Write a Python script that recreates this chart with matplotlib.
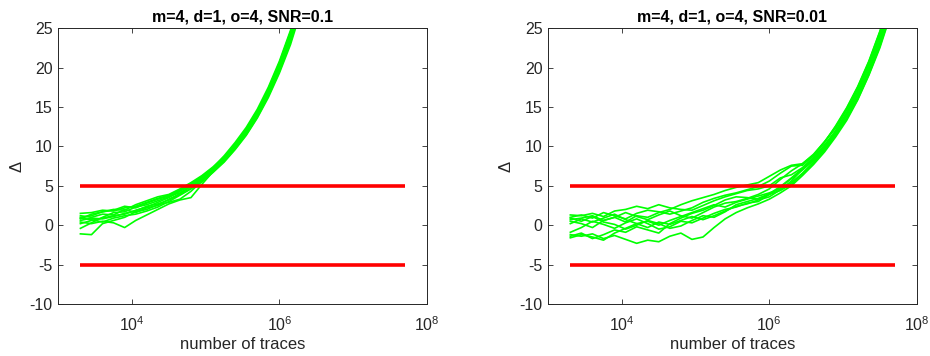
import matplotlib
matplotlib.use("Agg")
import matplotlib.pyplot as plt

plt.rcParams['font.family'] = ['Liberation Sans', 'DejaVu Sans']
plt.rcParams['mathtext.fontset'] = 'custom'
plt.rcParams['mathtext.rm'] = 'Liberation Sans'
plt.rcParams['mathtext.it'] = 'Liberation Sans'

# number of traces (x grid shared by all green curves)
traces = [1995, 2818, 3981, 5623, 7943, 11220, 15849, 22387, 31623, 44668,
          63096, 89125, 125893, 177828, 251189, 354813, 501187, 707946, 1.0e6, 1.413e6,
          1.995e6, 2.818e6, 3.981e6, 5.623e6, 7.943e6, 1.122e7, 1.585e7, 2.239e7, 3.162e7, 4.467e7]

# threshold lines
thr_x = [2000, 5.0e7]
thr_hi = [5, 5]
thr_lo = [-5, -5]

# Left panel: SNR = 0.1
left_title = "m=4, d=1, o=4, SNR=0.1"
left_1 = [1.5, 1.6, 1.9, 1.8, 2.2, 2.4, 2.9, 3.4, 3.8, 4.5, 5.3, 6.1, 7.2, 8.6, 10.3, 12.1, 14.4, 17.1, 20.4, 24.2, 29.0]
left_2 = [0.8, 1.4, 1.7, 2.0, 1.9, 2.6, 3.1, 3.6, 3.9, 4.6, 5.4, 6.3, 7.4, 8.7, 10.1, 12.0, 14.2, 16.9, 20.1, 23.9, 28.6]
left_3 = [-1.1, -1.2, 0.2, 0.6, 1.0, 1.7, 2.0, 2.6, 2.9, 3.3, 4.3, 5.6, 6.9, 8.2, 9.8, 11.6, 13.9, 16.6, 19.7, 23.5, 28.0]
left_4 = [0.4, 0.2, 0.5, 0.3, -0.3, 0.6, 1.3, 2.0, 2.7, 3.2, 3.5, 5.2, 6.8, 8.1, 9.7, 11.5, 13.7, 16.4, 19.5, 23.2, 27.8]
left_5 = [1.0, 1.2, 1.7, 1.9, 2.4, 2.2, 2.8, 3.3, 3.7, 4.1, 4.9, 5.8, 7.0, 8.3, 9.9, 11.8, 14.0, 16.7, 19.9, 23.6, 28.3]
left_6 = [0.2, 0.6, 0.9, 1.2, 1.4, 1.9, 2.3, 2.9, 3.5, 4.3, 5.1, 6.0, 7.1, 8.5, 10.2, 12.2, 14.5, 17.3, 20.6, 24.5, 29.3]
left_7 = [0.6, 0.9, 0.8, 1.1, 1.5, 1.8, 2.4, 2.7, 3.2, 3.9, 4.7, 5.7, 6.8, 8.2, 9.8, 11.7, 13.9, 16.6, 19.8, 23.5, 28.1]
left_8 = [-0.4, 0.3, 1.0, 1.6, 1.7, 2.3, 2.6, 3.1, 3.6, 4.4, 5.2, 6.2, 7.3, 8.8, 10.5, 12.4, 14.7, 17.5, 20.8, 24.7, 29.6]
left_9 = [1.2, 1.0, 1.4, 1.3, 2.0, 1.6, 2.2, 2.5, 3.3, 4.0, 5.0, 5.9, 7.1, 8.4, 10.0, 11.9, 14.2, 16.9, 20.2, 24.0, 28.8]
left_10 = [0.9, 0.7, 0.4, 0.9, 1.2, 1.4, 1.8, 2.3, 3.0, 3.8, 4.6, 5.5, 6.7, 8.0, 9.6, 11.4, 13.6, 16.2, 19.3, 22.9, 27.4]

# Right panel: SNR = 0.01
right_title = "m=4, d=1, o=4, SNR=0.01"
right_1 = [1.3, 1.2, 1.5, 1.1, 1.8, 2.0, 2.4, 2.1, 2.6, 2.2, 2.0, 1.9, 2.5, 3.1, 3.6, 4.0, 4.4, 4.6, 5.0, 6.0, 6.4, 7.3, 8.6, 10.2, 12.0, 14.3, 17.0, 20.2, 24.0, 28.5]
right_2 = [1.0, 1.3, 0.9, 1.6, 1.2, 0.8, 1.5, 1.9, 1.7, 1.4, 1.8, 2.2, 2.9, 3.4, 3.8, 4.1, 4.5, 4.9, 5.6, 6.6, 7.5, 7.6, 8.8, 10.5, 12.6, 14.9, 17.6, 20.8, 24.6, 29.2]
right_3 = [0.7, 0.9, 1.2, 0.6, 1.0, 1.6, 1.1, 0.7, 1.3, 1.8, 1.2, 0.9, 1.6, 2.3, 2.8, 3.0, 3.4, 3.9, 4.6, 5.8, 6.9, 7.8, 9.0, 10.6, 12.3, 14.6, 17.3, 20.5, 24.3, 28.8]
right_4 = [-1.6, -1.2, -1.5, -1.9, -1.0, -0.4, 0.2, 0.5, 0.0, 0.6, 1.1, 1.6, 2.1, 2.6, 2.3, 2.9, 3.3, 3.7, 4.1, 4.6, 5.4, 6.6, 8.0, 9.6, 11.5, 13.6, 16.2, 19.3, 22.9, 27.2]
right_5 = [-1.2, -1.4, -1.1, -1.7, -1.3, -1.8, -2.3, -1.9, -2.1, -1.4, -1.0, -1.8, -1.5, -0.3, 0.8, 1.6, 2.2, 2.7, 3.3, 4.1, 5.0, 6.3, 7.7, 9.3, 11.2, 13.3, 15.9, 19.0, 22.5, 26.8]
right_6 = [0.2, 0.8, 0.4, 0.9, 1.4, 0.7, 0.2, -0.3, 0.4, 0.1, 0.6, 1.1, 0.7, 1.2, 1.8, 2.4, 2.7, 3.2, 3.6, 4.5, 5.6, 7.1, 8.5, 10.0, 11.9, 14.2, 16.9, 20.1, 23.8, 28.3]
right_7 = [-0.9, -0.3, 0.5, 0.1, -0.4, 0.3, 0.8, 0.2, -0.5, -0.2, 0.5, 0.3, 0.9, 1.5, 2.0, 2.3, 2.8, 3.0, 3.9, 4.8, 5.9, 7.0, 8.2, 9.8, 11.6, 13.9, 16.5, 19.6, 23.3, 27.7]
right_8 = [0.9, 0.5, 1.1, 0.4, 0.1, -0.5, 0.0, 0.6, 0.2, -0.4, -0.1, 0.6, 1.2, 1.0, 1.7, 2.6, 3.0, 3.4, 4.0, 4.9, 6.0, 7.2, 8.3, 9.9, 11.7, 14.0, 16.6, 19.7, 23.4, 27.9]
right_9 = [-1.4, -1.0, -1.7, -1.2, -0.6, -0.9, -0.2, -0.6, -1.0, 0.2, 0.9, 1.5, 1.9, 2.5, 3.2, 3.6, 3.5, 3.3, 3.9, 4.4, 5.2, 6.5, 7.9, 9.5, 11.4, 13.5, 16.0, 19.1, 22.7, 27.0]
right_10 = [0.5, 0.2, -0.3, 0.6, 1.0, 0.4, 1.2, 1.0, 1.6, 2.0, 2.6, 3.1, 3.5, 3.9, 4.4, 4.8, 5.1, 5.4, 6.2, 7.0, 7.6, 7.8, 8.9, 10.6, 12.5, 14.8, 17.5, 20.7, 24.5, 29.0]

left_series = [left_1, left_2, left_3, left_4, left_5, left_6, left_7, left_8, left_9, left_10]
right_series = [right_1, right_2, right_3, right_4, right_5, right_6, right_7, right_8, right_9, right_10]

x_ticks = [1e4, 1e6, 1e8]
x_ticklabels = [r"$10^4$", r"$10^6$", r"$10^8$"]
y_ticks = [-10, -5, 0, 5, 10, 15, 20, 25]
y_ticklabels = ["-10", "-5", "0", "5", "10", "15", "20", "25"]

axc = "#262626"
fig = plt.figure(figsize=(9.3, 3.56), dpi=100)
positions = [[0.0627, 0.146, 0.3962, 0.775], [0.5895, 0.146, 0.3962, 0.775]]
panels = [(left_title, left_series), (right_title, right_series)]

for pos, (title, series) in zip(positions, panels):
    ax = fig.add_axes(pos)
    for s in series:
        ax.plot(traces[:len(s)], s, color=(0, 1, 0), lw=1.2, zorder=2)
    ax.plot(thr_x, thr_hi, color=(1, 0, 0), lw=2.6, zorder=3, solid_capstyle='butt')
    ax.plot(thr_x, thr_lo, color=(1, 0, 0), lw=2.6, zorder=3, solid_capstyle='butt')
    ax.set_xscale('log')
    ax.set_xlim(1e3, 1e8)
    ax.set_ylim(-10, 25)
    ax.set_xticks(x_ticks)
    ax.set_xticklabels(x_ticklabels)
    ax.minorticks_off()
    ax.set_yticks(y_ticks)
    ax.set_yticklabels(y_ticklabels)
    ax.tick_params(direction='in', length=3.5, width=0.6, color=axc, labelcolor=axc,
                   labelsize=11.5, top=True, right=True)
    ax.tick_params(axis='x', pad=8)
    ax.tick_params(axis='y', pad=4)
    for sp in ax.spines.values():
        sp.set_color(axc)
        sp.set_linewidth(0.7)
    ax.set_title(title, fontsize=11.5, fontweight='bold', color='black', pad=5)
    ax.set_xlabel("number of traces", fontsize=12, color=axc, labelpad=2)
    ax.set_ylabel("Δ", fontsize=12, color=axc, labelpad=4)

fig.savefig("out.png", dpi=100)
